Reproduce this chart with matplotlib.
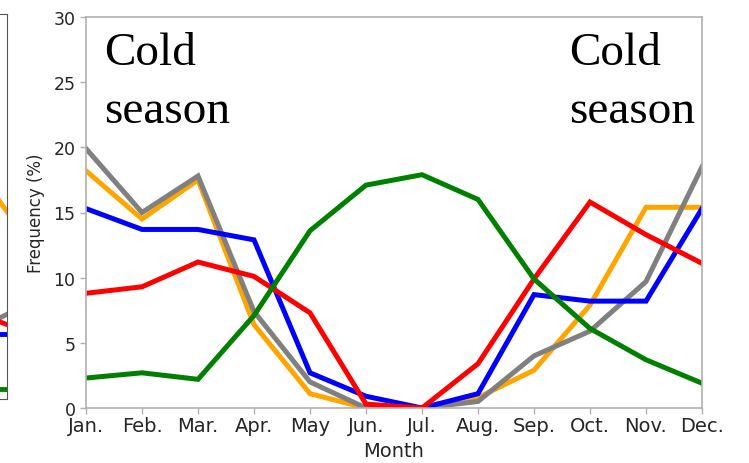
import matplotlib
matplotlib.use("Agg")
import matplotlib.pyplot as plt

months = ["Jan.", "Feb.", "Mar.", "Apr.", "May", "Jun.", "Jul.", "Aug.", "Sep.", "Oct.", "Nov.", "Dec."]

orange = [18.2, 14.5, 17.5, 6.4, 1.1, 0.0, 0.0, 0.8, 2.9, 7.9, 15.4, 15.4]
gray = [19.9, 15.0, 17.8, 7.4, 2.0, 0.0, 0.0, 0.5, 4.0, 5.9, 9.7, 18.5]
blue = [15.3, 13.7, 13.7, 12.9, 2.7, 0.9, 0.0, 1.1, 8.7, 8.2, 8.2, 15.3]
red = [8.8, 9.3, 11.2, 10.1, 7.3, 0.3, 0.0, 3.4, 9.9, 15.8, 13.3, 11.1]
green = [2.3, 2.7, 2.2, 7.1, 13.6, 17.1, 17.9, 16.0, 9.9, 6.1, 3.7, 1.9]

# neighbouring (cropped) panel: only its last two months are visible
left_orange = [16.8, 14.6]
left_gray = [5.8, 6.6]
left_red = [6.4, 5.8]
left_blue = [5.1, 5.1]
left_green = [0.8, 0.8]

series = [(orange, "#FFA500"), (gray, "#808080"), (blue, "#0000FF"),
          (red, "#FF0000"), (green, "#008000")]
left_series = [(left_orange, "#FFA500"), (left_gray, "#808080"), (left_blue, "#0000FF"),
               (left_red, "#FF0000"), (left_green, "#008000")]

W, H = 749, 464
fig = plt.figure(figsize=(W / 100, H / 100), dpi=100)

spine_col = "#b0b0b0"
txt_col = "#262626"

# cropped left panel
ax0 = fig.add_axes([7 / W - 0.3, (H - 400) / H, 0.3, (400 - 15) / H])
for vals, c in left_series:
    ax0.plot([10, 11], vals, color=c, lw=3.5)
ax0.set_xlim(0, 11)
ax0.set_ylim(0, 30)
ax0.set_xticks([])
ax0.set_yticks([])
for s in ax0.spines.values():
    s.set_color("#555555")
    s.set_linewidth(0.8)

ax = fig.add_axes([86 / W, (H - 409) / H, (702 - 86) / W, (409 - 18) / H])
x = list(range(len(months)))
for vals, c in series:
    ax.plot(x, vals, color=c, lw=3.6, solid_joinstyle="miter")

ax.set_xlim(0, 11)
ax.set_ylim(0, 30)
ax.set_xticks(x)
ax.set_xticklabels(months, fontsize=14, color=txt_col)
ax.set_yticks([0, 5, 10, 15, 20, 25, 30])
ax.tick_params(axis="y", labelsize=12.5, colors=spine_col, labelcolor=txt_col, length=4, width=1)
ax.tick_params(axis="x", colors=spine_col, labelcolor=txt_col, length=4, width=1, pad=2)
for s in ax.spines.values():
    s.set_color(spine_col)
    s.set_linewidth(1.2)
ax.set_xlabel("Month", fontsize=14, color=txt_col, labelpad=4)
ax.set_ylabel("Frequency (%)", fontsize=12, color=txt_col, labelpad=6)

serif = ["Liberation Serif", "DejaVu Serif"]
ax.text(0.029, 0.962, "Cold\nseason", transform=ax.transAxes, ha="left", va="top",
        fontsize=34, family=serif, color="black", linespacing=1.46)
ax.text(0.785, 0.962, "Cold\nseason", transform=ax.transAxes, ha="left", va="top",
        fontsize=34, family=serif, color="black", linespacing=1.46)

fig.savefig("out.png", dpi=100)
